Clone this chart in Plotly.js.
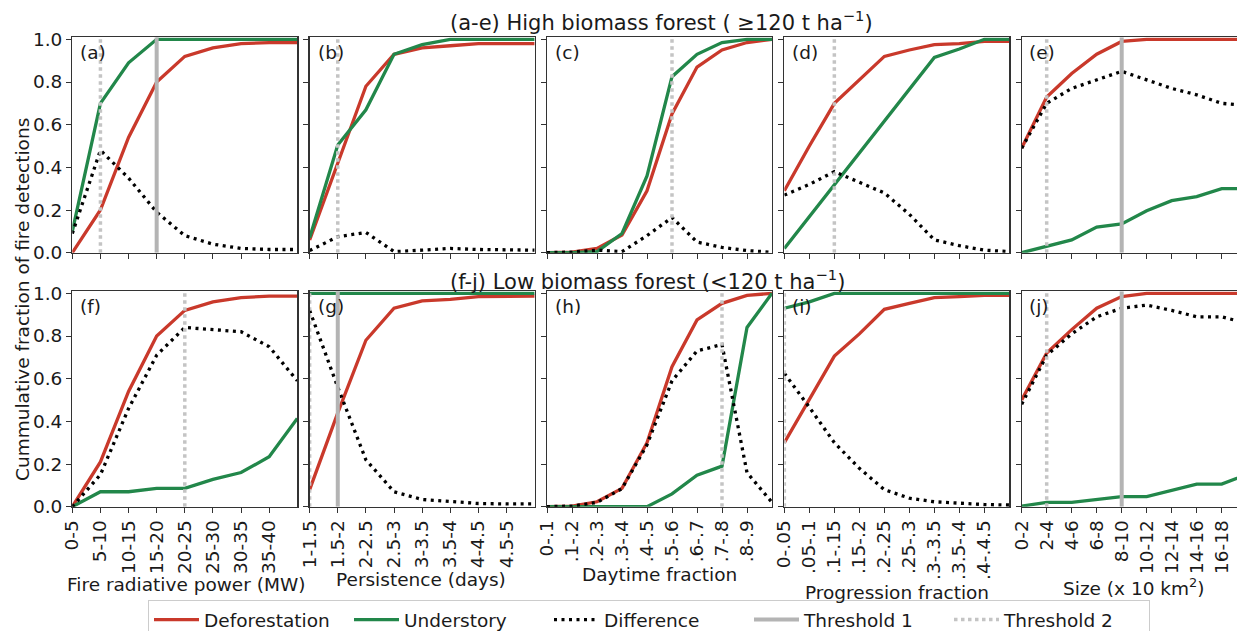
<!DOCTYPE html>
<html><head><meta charset="utf-8">
<script src="https://cdn.plot.ly/plotly-3.0.1.min.js"></script>
<style>html,body{margin:0;padding:0;background:#fff;} #chart{width:1237px;height:631px;}</style>
</head><body><div id="chart"></div>
<script>
// ---------- tick labels (categories) ----------
const frpLabels  = ['0-5','5-10','10-15','15-20','20-25','25-30','30-35','35-40'];
const persLabels = ['1-1.5','1.5-2','2-2.5','2.5-3','3-3.5','3.5-4','4-4.5','4.5-5'];
const dayLabels  = ['0-.1','.1-.2','.2-.3','.3-.4','.4-.5','.5-.6','.6-.7','.7-.8','.8-.9'];
const progLabels = ['0-.05','.05-.1','.1-.15','.15-.2','.2-.25','.25-.3','.3-.3.5','.3.5-.4','.4-.4.5'];
const sizeLabels = ['0-2','2-4','4-6','6-8','8-10','10-12','12-14','14-16','16-18'];

// ---------- High biomass forest (a-e) ----------
const aDef  = [0.0, 0.20, 0.54, 0.80, 0.92, 0.96, 0.98, 0.985, 0.985];
const aUnd  = [0.10, 0.70, 0.89, 1.0, 1.0, 1.0, 1.0, 1.0, 1.0];
const aDiff = [0.09, 0.48, 0.35, 0.19, 0.08, 0.04, 0.02, 0.015, 0.015];

const bDef  = [0.06, 0.42, 0.78, 0.93, 0.96, 0.97, 0.98, 0.98, 0.98];
const bUnd  = [0.07, 0.505, 0.67, 0.93, 0.975, 1.0, 1.0, 1.0, 1.0];
const bDiff = [0.01, 0.075, 0.095, 0.005, 0.012, 0.02, 0.015, 0.012, 0.012];

const cDef  = [0.0, 0.003, 0.02, 0.083, 0.29, 0.65, 0.87, 0.95, 0.985, 1.0];
const cUnd  = [0.0, 0.0, 0.005, 0.09, 0.36, 0.825, 0.93, 0.985, 1.0, 1.0];
const cDiff = [0.0, 0.003, 0.012, 0.005, 0.08, 0.165, 0.05, 0.025, 0.01, 0.002];

const dDef  = [0.29, 0.50, 0.70, 0.81, 0.92, 0.95, 0.975, 0.98, 0.99, 0.99];
const dUnd  = [0.02, 0.17, 0.32, 0.47, 0.62, 0.77, 0.915, 0.955, 1.0, 1.0];
const dDiff = [0.27, 0.32, 0.38, 0.33, 0.28, 0.18, 0.06, 0.033, 0.012, 0.005];

const eDef  = [0.49, 0.73, 0.84, 0.93, 0.99, 1.0, 1.0, 1.0, 1.0, 1.0];
const eUnd  = [0.0, 0.03, 0.06, 0.12, 0.135, 0.197, 0.244, 0.263, 0.30, 0.30];
const eDiff = [0.49, 0.70, 0.77, 0.81, 0.85, 0.81, 0.77, 0.74, 0.70, 0.69];

// ---------- Low biomass forest (f-j) ----------
const fDef  = [0.0, 0.21, 0.54, 0.80, 0.92, 0.96, 0.98, 0.987, 0.987];
const fUnd  = [0.0, 0.07, 0.07, 0.086, 0.086, 0.128, 0.16, 0.234, 0.414];
const fDiff = [0.0, 0.15, 0.46, 0.71, 0.84, 0.83, 0.82, 0.75, 0.59];

const gDef  = [0.08, 0.44, 0.78, 0.93, 0.965, 0.972, 0.985, 0.987, 0.987];
const gUnd  = [1.0, 1.0, 1.0, 1.0, 1.0, 1.0, 1.0, 1.0, 1.0];
const gDiff = [0.92, 0.56, 0.22, 0.07, 0.034, 0.025, 0.015, 0.013, 0.013];

const hDef  = [0.0, 0.003, 0.023, 0.086, 0.30, 0.656, 0.875, 0.953, 0.99, 1.0];
const hUnd  = [0.0, 0.0, 0.0, 0.0, 0.0, 0.06, 0.148, 0.19, 0.84, 1.0];
const hDiff = [0.0, 0.003, 0.02, 0.085, 0.29, 0.59, 0.73, 0.76, 0.16, 0.02];

const iDef  = [0.30, 0.50, 0.706, 0.81, 0.925, 0.953, 0.98, 0.985, 0.99, 0.99];
const iUnd  = [0.93, 0.96, 1.0, 1.0, 1.0, 1.0, 1.0, 1.0, 1.0, 1.0];
const iDiff = [0.625, 0.466, 0.30, 0.18, 0.08, 0.04, 0.023, 0.015, 0.01, 0.008];

const jDef  = [0.50, 0.72, 0.83, 0.93, 0.985, 1.0, 1.0, 1.0, 1.0, 1.0];
const jUnd  = [0.003, 0.02, 0.02, 0.035, 0.047, 0.047, 0.078, 0.106, 0.106, 0.15];
const jDiff = [0.48, 0.71, 0.81, 0.89, 0.93, 0.945, 0.92, 0.89, 0.89, 0.86];

// thresholds (category index), null = none
const threshold1 = [3, null, null, null, 4, null, 1, null, null, 4];
const threshold2 = [1, 1, 5, 2, 1, 4, 0, 7, 0, 1];

const panelLetters = ['a','b','c','d','e','f','g','h','i','j'];
const xTitles = ['Fire radiative power (MW)','Persistence (days)','Daytime fraction','Progression fraction','Size (x 10 km<sup>2</sup>)'];
const rowTitles = ['(a-e) High biomass forest ( \u2265120 t ha<sup>\u22121</sup>)', '(f-j) Low biomass forest (<120 t ha<sup>\u22121</sup>)'];
const yTitle = 'Cummulative fraction of fire detections';
const seriesNames = ['Deforestation','Understory','Difference','Threshold 1','Threshold 2'];

const panelData = [
  [frpLabels, aDef, aUnd, aDiff], [persLabels, bDef, bUnd, bDiff], [dayLabels, cDef, cUnd, cDiff],
  [progLabels, dDef, dUnd, dDiff], [sizeLabels, eDef, eUnd, eDiff],
  [frpLabels, fDef, fUnd, fDiff], [persLabels, gDef, gUnd, gDiff], [dayLabels, hDef, hUnd, hDiff],
  [progLabels, iDef, iUnd, iDiff], [sizeLabels, jDef, jUnd, jDiff]
];

// ---------- styling / layout ----------
const W = 1237, H = 631;
const RED = '#c9392b', GREEN = '#22874a', T1C = '#b4b4b4', T2C = '#c4c4c4';
const FONT = 'DejaVu Sans';
const FS = 18.5;
const FRAME = '#333333';
const colLeft = [72.3, 309.65, 547.0, 784.35, 1021.7];
const panelW = 225;
const rowY = [[252.7, 37.2], [506.7, 291.2]]; // [bottom px, top px]
const yRange = [0, 1.01];

const traces = [];
const layout = {
  width: W, height: H,
  margin: {l: 0, r: 0, t: 0, b: 0, autoexpand: false},
  paper_bgcolor: '#ffffff', plot_bgcolor: '#ffffff',
  font: {family: FONT, size: FS, color: '#1a1a1a'},
  showlegend: true,
  legend: {
    orientation: 'h', x: 148 / W, xanchor: 'left', y: 1 - 600 / H, yanchor: 'top',
    bordercolor: '#cccccc', borderwidth: 1, bgcolor: '#ffffff',
    font: {family: FONT, size: FS, color: '#1a1a1a'},
    itemwidth: 45, entrywidth: 140, entrywidthmode: 'pixels', traceorder: 'normal'
  },
  annotations: []
};

const legendShown = {};
function addTrace(k, name, x, y, line) {
  const sfx = k === 0 ? '' : String(k + 1);
  const show = !legendShown[name];
  legendShown[name] = true;
  traces.push({
    type: 'scatter', mode: 'lines', x: x, y: y, name: name,
    xaxis: 'x' + sfx, yaxis: 'y' + sfx, line: line,
    showlegend: show, legendgroup: name, hoverinfo: 'skip'
  });
}

for (let k = 0; k < 10; k++) {
  const row = k < 5 ? 0 : 1, col = k % 5;
  const [labels, def, und, diff] = panelData[k];
  const n = def.length;
  const xs = def.map((_, i) => i);
  const step = panelW / (n - 1);
  const x0 = colLeft[col];
  const x1 = Math.min(x0 + panelW, W);
  const rEnd = (x1 - x0) / step;
  const sfx = k === 0 ? '' : String(k + 1);

  addTrace(k, seriesNames[0], xs, def, {color: RED, width: 3.3});
  addTrace(k, seriesNames[1], xs, und, {color: GREEN, width: 3.3});
  addTrace(k, seriesNames[2], xs, diff, {color: '#000000', width: 3.3, dash: '3px,4.5px'});
  if (threshold1[k] !== null) addTrace(k, seriesNames[3], [threshold1[k], threshold1[k]], yRange, {color: T1C, width: 4});
  if (threshold2[k] !== null) addTrace(k, seriesNames[4], [threshold2[k], threshold2[k]], yRange, {color: T2C, width: 3.5, dash: '3.5px,3.5px'});

  layout['xaxis' + sfx] = {
    domain: [x0 / W, x1 / W], range: [0, rEnd], anchor: 'y' + sfx,
    tickmode: 'array', tickvals: labels.map((_, i) => i), ticktext: labels,
    tickangle: -90, showticklabels: row === 1,
    ticks: 'outside', ticklen: 5, tickwidth: 1, tickcolor: FRAME,
    showline: true, mirror: true, linecolor: FRAME, linewidth: 1.2,
    showgrid: false, zeroline: false, fixedrange: true,
    tickfont: {family: FONT, size: FS, color: '#1a1a1a'}
  };
  layout['yaxis' + sfx] = {
    domain: [1 - rowY[row][0] / H, 1 - rowY[row][1] / H], range: yRange, anchor: 'x' + sfx,
    tickmode: 'array', tickvals: [0, 0.2, 0.4, 0.6, 0.8, 1.0],
    ticktext: ['0.0', '0.2', '0.4', '0.6', '0.8', '1.0'],
    showticklabels: col === 0,
    ticks: 'outside', ticklen: 5, tickwidth: 1, tickcolor: FRAME,
    showline: true, mirror: true, linecolor: FRAME, linewidth: 1.2,
    showgrid: false, zeroline: false, fixedrange: true,
    tickfont: {family: FONT, size: FS, color: '#1a1a1a'}
  };
  layout.annotations.push({
    text: '(' + panelLetters[k] + ')', xref: 'x' + sfx + ' domain', yref: 'y' + sfx + ' domain',
    x: 6 / panelW, y: 1 - 15 / 215.5, xanchor: 'left', yanchor: 'middle', showarrow: false,
    font: {family: FONT, size: FS, color: '#1a1a1a'}
  });
}

// row titles
[[448, 21], [448, 280]].forEach((p, r) => {
  layout.annotations.push({
    text: rowTitles[r], xref: 'paper', yref: 'paper', x: p[0] / W, y: 1 - p[1] / H,
    xanchor: 'left', yanchor: 'middle', showarrow: false,
    font: {family: FONT, size: 21, color: '#1a1a1a'}
  });
});
// x-axis titles (bottom row)
[[186, 584], [421, 579], [659, 574], [897, 592], [1134, 587]].forEach((p, c) => {
  layout.annotations.push({
    text: xTitles[c], xref: 'paper', yref: 'paper', x: p[0] / W, y: 1 - p[1] / H,
    xanchor: 'center', yanchor: 'middle', showarrow: false,
    font: {family: FONT, size: FS, color: '#1a1a1a'}
  });
});
// y-axis title
layout.annotations.push({
  text: yTitle, xref: 'paper', yref: 'paper', x: 22 / W, y: 1 - 300 / H,
  xanchor: 'center', yanchor: 'middle', textangle: -90, showarrow: false,
  font: {family: FONT, size: FS, color: '#1a1a1a'}
});

Plotly.newPlot('chart', traces, layout, {staticPlot: true, displayModeBar: false});
</script>
</body></html>
